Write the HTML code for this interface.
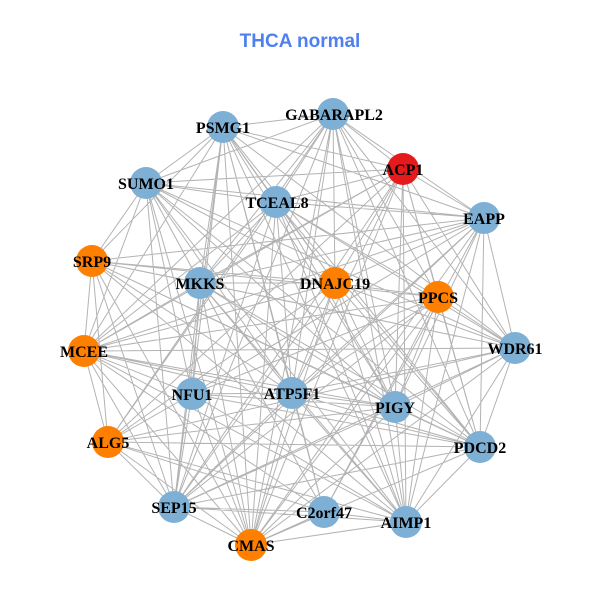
<!DOCTYPE html>
<html><head><meta charset="utf-8"><style>
html,body{margin:0;padding:0;background:#fff;}
svg{display:block;}
.l{font-family:"Liberation Serif",serif;font-weight:bold;font-size:16px;fill:#000;text-anchor:middle;}
</style></head><body>
<svg width="600" height="600" viewBox="0 0 600 600" xmlns="http://www.w3.org/2000/svg">
<rect width="600" height="600" fill="#fff"/>
<text x="300" y="47" text-anchor="middle" style="font-family:'Liberation Sans',sans-serif;font-weight:bold;font-size:19px;fill:#5080ef;">THCA normal</text>
<path fill="none" stroke="#b3b3b3" stroke-width="1" d="
M333 114L223 127M333 114L403 169M333 114L146 183M333 114L276 202M333 114L484 218M333 114L200 283M333 114L335 283M333 114L438 297M333 114L515 348M333 114L84 351M333 114L292 393M333 114L395 407M333 114L108 442M333 114L480 447M333 114L174 507M333 114L406 522M333 114L251 545
M223 127L403 169M223 127L146 183M223 127L276 202M223 127L484 218M223 127L92 261M223 127L200 283M223 127L335 283M223 127L515 348M223 127L84 351M223 127L192 394M223 127L292 393M223 127L395 407M223 127L480 447M223 127L174 507M223 127L324 512M223 127L406 522M223 127L251 545
M403 169L146 183M403 169L276 202M403 169L484 218M403 169L200 283M403 169L335 283M403 169L438 297M403 169L515 348M403 169L84 351M403 169L292 393M403 169L395 407M403 169L108 442M403 169L480 447M403 169L174 507M403 169L406 522M403 169L251 545
M146 183L276 202M146 183L484 218M146 183L92 261M146 183L200 283M146 183L335 283M146 183L515 348M146 183L84 351M146 183L192 394M146 183L292 393M146 183L395 407M146 183L480 447M146 183L174 507M146 183L324 512M146 183L406 522M146 183L251 545
M276 202L484 218M276 202L200 283M276 202L335 283M276 202L438 297M276 202L515 348M276 202L84 351M276 202L292 393M276 202L395 407M276 202L108 442M276 202L480 447M276 202L174 507M276 202L406 522M276 202L251 545
M484 218L92 261M484 218L200 283M484 218L335 283M484 218L515 348M484 218L84 351M484 218L192 394M484 218L292 393M484 218L395 407M484 218L480 447M484 218L174 507M484 218L324 512M484 218L406 522M484 218L251 545
M92 261L200 283M92 261L335 283M92 261L438 297M92 261L515 348M92 261L84 351M92 261L292 393M92 261L395 407M92 261L108 442M92 261L480 447M92 261L174 507M92 261L406 522M92 261L251 545
M200 283L335 283M200 283L515 348M200 283L84 351M200 283L192 394M200 283L292 393M200 283L395 407M200 283L480 447M200 283L174 507M200 283L324 512M200 283L406 522M200 283L251 545
M335 283L438 297M335 283L515 348M335 283L84 351M335 283L292 393M335 283L395 407M335 283L108 442M335 283L480 447M335 283L174 507M335 283L406 522M335 283L251 545
M438 297L515 348M438 297L84 351M438 297L192 394M438 297L292 393M438 297L395 407M438 297L480 447M438 297L174 507M438 297L324 512M438 297L406 522M438 297L251 545
M515 348L84 351M515 348L292 393M515 348L395 407M515 348L108 442M515 348L480 447M515 348L174 507M515 348L406 522M515 348L251 545
M84 351L192 394M84 351L292 393M84 351L395 407M84 351L108 442M84 351L480 447M84 351L174 507M84 351L324 512M84 351L406 522M84 351L251 545
M192 394L292 393M192 394L395 407M192 394L108 442M192 394L480 447M192 394L174 507M192 394L406 522M192 394L251 545
M292 393L395 407M292 393L480 447M292 393L174 507M292 393L324 512M292 393L406 522M292 393L251 545
M395 407L108 442M395 407L480 447M395 407L174 507M395 407L406 522M395 407L251 545
M108 442L480 447M108 442L174 507M108 442L324 512M108 442L406 522M108 442L251 545
M480 447L174 507M480 447L406 522M480 447L251 545
M174 507L324 512M174 507L406 522M174 507L251 545
M324 512L406 522M324 512L251 545
M406 522L251 545"/>
<g>
<circle cx="333" cy="114" r="16" fill="#7eb0d5"/>
<circle cx="223" cy="127" r="16" fill="#7eb0d5"/>
<circle cx="403" cy="169" r="16" fill="#e41a1c"/>
<circle cx="146" cy="183" r="16" fill="#7eb0d5"/>
<circle cx="276" cy="202" r="16" fill="#7eb0d5"/>
<circle cx="484" cy="218" r="16" fill="#7eb0d5"/>
<circle cx="92" cy="261" r="16" fill="#ff7f00"/>
<circle cx="200" cy="283" r="16" fill="#7eb0d5"/>
<circle cx="335" cy="283" r="16" fill="#ff7f00"/>
<circle cx="438" cy="297" r="16" fill="#ff7f00"/>
<circle cx="515" cy="348" r="16" fill="#7eb0d5"/>
<circle cx="84" cy="351" r="16" fill="#ff7f00"/>
<circle cx="192" cy="394" r="16" fill="#7eb0d5"/>
<circle cx="292" cy="393" r="16" fill="#7eb0d5"/>
<circle cx="395" cy="407" r="16" fill="#7eb0d5"/>
<circle cx="108" cy="442" r="16" fill="#ff7f00"/>
<circle cx="480" cy="447" r="16" fill="#7eb0d5"/>
<circle cx="174" cy="507" r="16" fill="#7eb0d5"/>
<circle cx="324" cy="512" r="16" fill="#7eb0d5"/>
<circle cx="406" cy="522" r="16" fill="#7eb0d5"/>
<circle cx="251" cy="545" r="16" fill="#ff7f00"/>
</g>
<g class="l">
<text class="l" x="334" y="120">GABARAPL2</text>
<text class="l" x="223" y="133">PSMG1</text>
<text class="l" x="403" y="175">ACP1</text>
<text class="l" x="146" y="189">SUMO1</text>
<text class="l" x="277" y="208">TCEAL8</text>
<text class="l" x="484" y="224">EAPP</text>
<text class="l" x="92" y="267">SRP9</text>
<text class="l" x="200" y="289">MKKS</text>
<text class="l" x="335" y="289">DNAJC19</text>
<text class="l" x="438" y="303">PPCS</text>
<text class="l" x="515" y="354">WDR61</text>
<text class="l" x="84" y="357">MCEE</text>
<text class="l" x="192" y="400">NFU1</text>
<text class="l" x="292" y="399">ATP5F1</text>
<text class="l" x="395" y="413">PIGY</text>
<text class="l" x="108" y="448">ALG5</text>
<text class="l" x="480" y="453">PDCD2</text>
<text class="l" x="174" y="513">SEP15</text>
<text class="l" x="324" y="518">C2orf47</text>
<text class="l" x="406" y="528">AIMP1</text>
<text class="l" x="251" y="551">CMAS</text>
</g>
</svg>
</body></html>
